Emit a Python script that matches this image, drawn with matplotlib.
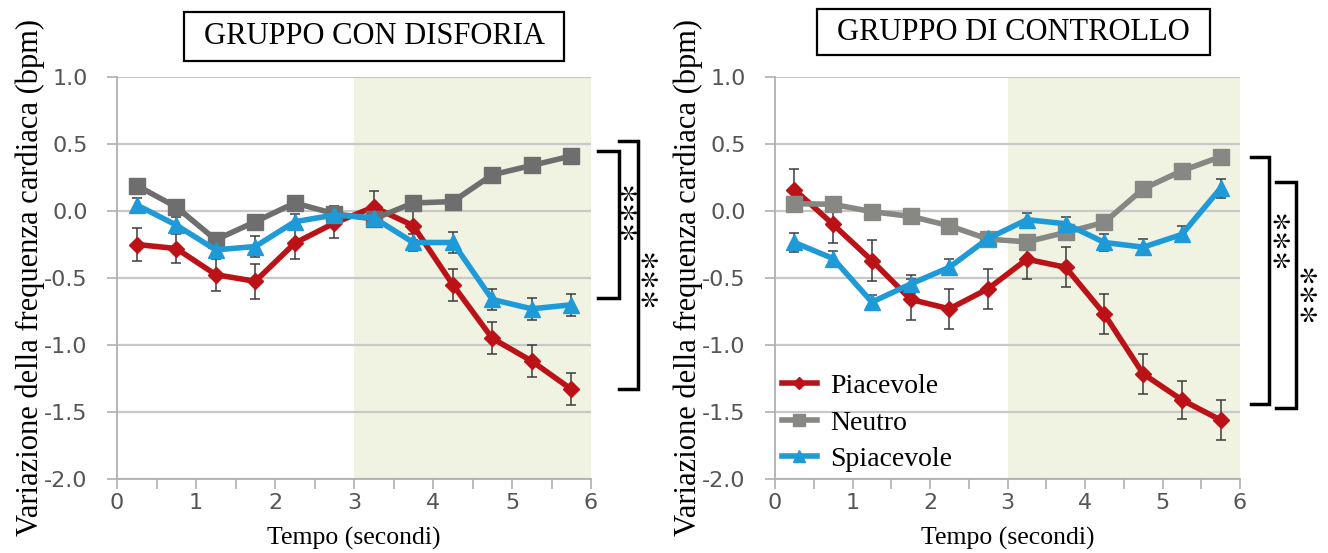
import matplotlib
matplotlib.use('Agg')
import matplotlib.pyplot as plt
from matplotlib.patches import Rectangle
from matplotlib.ticker import MultipleLocator

# ---------------- data ----------------
time_s = [0.25, 0.75, 1.25, 1.75, 2.25, 2.75, 3.25, 3.75, 4.25, 4.75, 5.25, 5.75]

series_names = ["Piacevole", "Neutro", "Spiacevole"]

# GRUPPO CON DISFORIA
dis_piacevole = [-0.25, -0.28, -0.475, -0.525, -0.24, -0.09, 0.03, -0.11, -0.55, -0.95, -1.12, -1.33]
dis_neutro = [0.19, 0.03, -0.215, -0.08, 0.06, -0.02, -0.06, 0.06, 0.07, 0.27, 0.34, 0.41]
dis_spiacevole = [0.045, -0.105, -0.29, -0.265, -0.08, -0.03, -0.05, -0.235, -0.235, -0.66, -0.73, -0.70]
dis_err_piacevole = [0.12, 0.11, 0.12, 0.13, 0.12, 0.11, 0.12, 0.11, 0.12, 0.12, 0.12, 0.12]
dis_err_neutro = [0.03, 0.03, 0.03, 0.03, 0.03, 0.06, 0.04, 0.03, 0.03, 0.03, 0.03, 0.03]
dis_err_spiacevole = [0.05, 0.06, 0.06, 0.08, 0.06, 0.05, 0.04, 0.06, 0.08, 0.08, 0.08, 0.08]

# GRUPPO DI CONTROLLO
ctl_piacevole = [0.16, -0.10, -0.37, -0.66, -0.73, -0.58, -0.36, -0.42, -0.77, -1.215, -1.41, -1.56]
ctl_neutro = [0.055, 0.05, -0.005, -0.04, -0.11, -0.21, -0.23, -0.16, -0.085, 0.165, 0.30, 0.405]
ctl_spiacevole = [-0.235, -0.355, -0.68, -0.545, -0.42, -0.205, -0.065, -0.095, -0.235, -0.27, -0.175, 0.17]
ctl_err_piacevole = [0.15, 0.14, 0.15, 0.15, 0.15, 0.15, 0.15, 0.15, 0.15, 0.15, 0.14, 0.15]
ctl_err_neutro = [0.03, 0.03, 0.03, 0.03, 0.03, 0.03, 0.03, 0.03, 0.03, 0.03, 0.03, 0.03]
ctl_err_spiacevole = [0.07, 0.06, 0.05, 0.07, 0.06, 0.05, 0.05, 0.05, 0.06, 0.06, 0.06, 0.07]

y_ticks = [1.0, 0.5, 0.0, -0.5, -1.0, -1.5, -2.0]
y_tick_labels = ["1.0", "0.5", "0.0", "-0.5", "-1.0", "-1.5", "-2.0"]
x_ticks = [0, 1, 2, 3, 4, 5, 6]

titles = ["GRUPPO CON DISFORIA", "GRUPPO DI CONTROLLO"]
ylabel = "Variazione della frequenza cardiaca (bpm)"
xlabel = "Tempo (secondi)"
stars = r"${\ast}{\ast}{\ast}$"

# significance brackets: (x_vertical, x_start, y_top, y_bottom, x_stars, y_stars)
brackets_dis = [(6.35, 6.09, 0.45, -0.65, 6.475, 0.0), (6.60, 6.36, 0.52, -1.33, 6.74, -0.50)]
brackets_ctl = [(6.37, 6.14, 0.40, -1.44, 6.54, -0.21), (6.72, 6.47, 0.22, -1.47, 6.88, -0.61)]

# ---------------- style ----------------
colors = {"Piacevole": "#bb1218", "Neutro": "#7a7a7a", "Spiacevole": "#1f9ad8"}
markers = {"Piacevole": ("D", 8), "Neutro": ("s", 11), "Spiacevole": ("^", 11)}
zorders = {"Piacevole": 3, "Neutro": 4, "Spiacevole": 5}
serif = ["Liberation Serif", "DejaVu Serif"]

W, H = 1328, 553
fig = plt.figure(figsize=(W / 100, H / 100), dpi=100)

ax_l = fig.add_axes([117 / W, (H - 479) / H, 474 / W, 402 / H])
ax_r = fig.add_axes([775 / W, (H - 479) / H, 465 / W, 402 / H])

panels = [
    (ax_l, [dis_piacevole, dis_neutro, dis_spiacevole],
     [dis_err_piacevole, dis_err_neutro, dis_err_spiacevole], brackets_dis, titles[0],
     (184, 564, 12, 61), "#6e6e6e"),
    (ax_r, [ctl_piacevole, ctl_neutro, ctl_spiacevole],
     [ctl_err_piacevole, ctl_err_neutro, ctl_err_spiacevole], brackets_ctl, titles[1],
     (817, 1210, 9, 55), "#878783"),
]

for ax, vals, errs, brackets, title, box, gray in panels:
    ax.set_xlim(0, 6)
    ax.set_ylim(-2.0, 1.0)
    ax.axvspan(3, 6, color="#f0f2e2", zorder=0, lw=0)
    ax.set_axisbelow(True)
    ax.yaxis.grid(True, color="#c8c8c8", lw=1.6)
    for s in ["top", "right"]:
        ax.spines[s].set_visible(False)
    for s in ["left", "bottom"]:
        ax.spines[s].set_color("#b0b0b0")
        ax.spines[s].set_linewidth(1.3)
    ax.set_yticks(y_ticks)
    ax.set_yticklabels(y_tick_labels)
    ax.set_xticks(x_ticks)
    ax.xaxis.set_minor_locator(MultipleLocator(0.5))
    ax.tick_params(axis="y", direction="out", length=7, width=1.2, color="#b0b0b0",
                   labelsize=16, labelcolor="#555555", pad=14)
    ax.tick_params(axis="x", which="both", direction="out", length=7, width=1.2,
                   color="#b0b0b0", labelsize=16, labelcolor="#555555", pad=3)
    ax.set_ylabel(ylabel, fontsize=22, family=serif)
    ax.set_xlabel(xlabel, fontsize=18.5, family=serif, labelpad=10)

    for name, v, e in zip(series_names, vals, errs):
        c = gray if name == "Neutro" else colors[name]
        m, ms = markers[name]
        ax.errorbar(time_s, v, yerr=e, fmt="none", ecolor="#3c3c3c", elinewidth=1.1,
                    capsize=3.5, capthick=1.1, zorder=2)
        ax.plot(time_s, v, color=c, lw=4, marker=m, markersize=ms,
                markeredgecolor=c, zorder=zorders[name], label=name)

    for xv, xs, yt, yb, xstar, ystar in brackets:
        ax.plot([xs, xv, xv, xs], [yt, yt, yb, yb], color="black", lw=2.5,
                clip_on=False, solid_joinstyle="miter")
        ax.text(xstar, ystar, stars, rotation=270, ha="center", va="center",
                fontsize=27, math_fontfamily="stix", clip_on=False)

    x0, x1, y0, y1 = box
    fig.patches.append(Rectangle((x0 / W, 1 - y1 / H), (x1 - x0) / W, (y1 - y0) / H,
                                 transform=fig.transFigure, fill=False,
                                 edgecolor="black", lw=1.6))
    fig.text((x0 + x1) / 2 / W, 1 - (y0 + y1) / 2 / H, title, ha="center", va="center",
             fontsize=22, family=serif)

ax_l.yaxis.set_label_coords(-0.152, 0.5)
ax_r.yaxis.set_label_coords(-0.155, 0.5)

leg = ax_r.legend(loc="lower left", bbox_to_anchor=(0.0, 0.0), frameon=False,
                  prop={"family": serif, "size": 20}, handlelength=1.25,
                  handletextpad=0.5, labelspacing=0.4, borderaxespad=0.1,
                  borderpad=0.15, markerscale=0.8)

fig.savefig("out.png", dpi=100, facecolor="white")
